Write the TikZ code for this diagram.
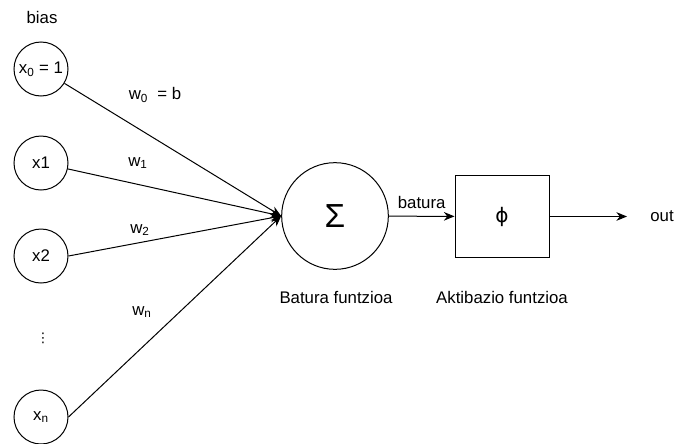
\documentclass[tikz,border=0pt]{standalone}
\usepackage{fontspec}
\setmainfont{Liberation Sans}
\newfontfamily\symfont{DejaVu Sans}
\usetikzlibrary{arrows.meta}
\usetikzlibrary{positioning}

\begin{document}
\begin{tikzpicture}[x=0.75pt,y=-0.75pt,line width=0.75pt,
  font=\fontsize{12.6}{15}\selectfont,
  inp/.style={draw,circle,minimum size=40.5pt,inner sep=0pt},
  conn/.style={-{Stealth[length=8pt,width=6.5pt]}}]
  \useasboundingbox (0,0) rectangle (677,443);

  % 入力
  \node (bias) at (42,17) {bias};
  \node[inp] (x0) at (41,69) {x\textsubscript{0} = 1};
  \node[inp] (x1) at (41,163) {x1};
  \node[inp] (x2) at (41,256) {x2};
  \node (dots) at (43,338) {\symfont\fontsize{10}{10}\selectfont ⋮};
  \node[inp] (xn) at (41,417) {x\textsubscript{n}};

  % 和
  \node[draw,circle,minimum size=80pt,inner sep=0pt] (sum) at (335,216)
    {\fontsize{25}{27}\selectfont Σ};
  \node (sumlbl) at (336,297) {Batura funtzioa};

  % 活性化関数
  \node[draw,minimum width=70.5pt,minimum height=61pt,inner sep=0pt] (act)
    at (502,216.5) {\symfont\fontsize{15}{18}\selectfont ϕ};
  \node (actlbl) at (502,297) {Aktibazio funtzioa};
  \coordinate (outend) at (627,216.5);
  \node (out) at (662,216.5) {out};

  % 重み
  \draw[conn] (x0) -- (sum.west);
  \draw[conn] (x1) -- (sum.west);
  \draw[conn] (x2.east) -- (sum.west);
  \draw[conn] (xn.east) -- (sum.west);
  \node (w0) at (155,95) {w\textsubscript{0}\ \ = b};
  \node (w1) at (138,163) {w\textsubscript{1}};
  \node (w2) at (140,230) {w\textsubscript{2}};
  \node (wn) at (142,312) {w\textsubscript{n}};

  % 出力
  \draw[conn] (sum) -- (act) node[midway,above=2pt] (batura) {batura};
  \draw[conn] (act) -- (outend);
\end{tikzpicture}
\end{document}
